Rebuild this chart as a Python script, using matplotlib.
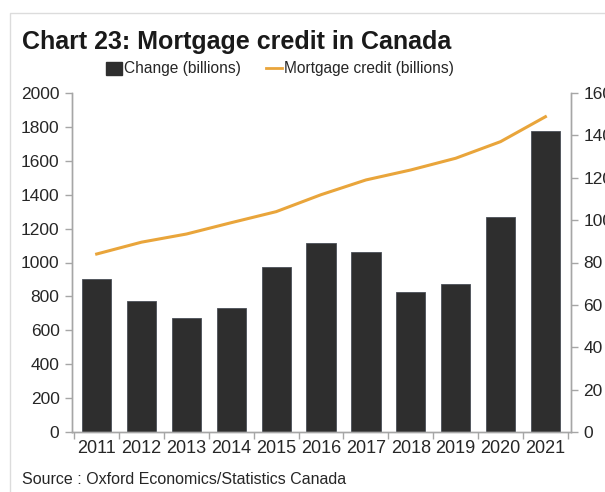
import matplotlib
matplotlib.use("Agg")
import matplotlib.pyplot as plt
from matplotlib.patches import Rectangle
from matplotlib.lines import Line2D

plt.rcParams['font.family'] = ['Liberation Sans', 'DejaVu Sans']

years = ["2011", "2012", "2013", "2014", "2015", "2016",
         "2017", "2018", "2019", "2020", "2021"]
change_billions = [72, 62, 54, 58.5, 78, 89, 85, 66, 70, 101.5, 142]
mortgage_credit = [1050, 1120, 1168, 1235, 1300, 1400, 1487, 1546, 1615, 1713, 1860]
left_ticks = [0, 200, 400, 600, 800, 1000, 1200, 1400, 1600, 1800, 2000]
right_ticks = [0, 20, 40, 60, 80, 100, 120, 140, 160]

bar_color = "#2e2e2e"
line_color = "#E9A53B"
spine_color = "#a6a6a6"
text_color = "#262626"

fig = plt.figure(figsize=(6.05, 4.92), dpi=100)

# faint frame around the chart panel
fig.patches.append(Rectangle((10 / 605, -0.1), 1.2, 1 - 13 / 492 + 0.1,
                             transform=fig.transFigure, fill=False,
                             edgecolor="#dcdcdc", linewidth=1.0))

ax = fig.add_axes([72 / 605, 1 - 432 / 492, (571 - 72) / 605, (432 - 93) / 492])
ax2 = ax.twinx()

x = list(range(len(years)))
ax2.bar(x, change_billions, width=0.65, color=bar_color,
        edgecolor="#4a4f57", linewidth=0.6, zorder=2)
ax.plot(x, mortgage_credit, color=line_color, linewidth=2.2, zorder=3)

# line drawn on top of bars
ax.set_zorder(ax2.get_zorder() + 1)
ax.patch.set_visible(False)

ax.set_xlim(-0.55, 10.57)
ax.set_ylim(0, 2000)
ax2.set_ylim(0, 160)
ax.set_yticks(left_ticks)
ax2.set_yticks(right_ticks)

ax.set_xticks(x)
ax.set_xticklabels(years)
ax.set_xticks([i + 0.5 for i in range(-1, len(years))], minor=True)
ax.tick_params(axis="x", which="major", length=0, pad=6,
               labelsize=13, labelcolor=text_color)
ax.tick_params(axis="x", which="minor", length=5, color=spine_color, width=1)

ax.tick_params(axis="y", length=5, color=spine_color, width=1,
               labelsize=12.5, labelcolor=text_color, pad=4)
ax2.tick_params(axis="y", length=5, color=spine_color, width=1,
                labelsize=12.5, labelcolor=text_color, pad=4)

for a in (ax, ax2):
    a.spines["top"].set_visible(False)
    for s in ("left", "right", "bottom"):
        a.spines[s].set_color(spine_color)
        a.spines[s].set_linewidth(1)

fig.text(22 / 605, 1 - 42 / 492, "Chart 23: Mortgage credit in Canada",
         fontsize=18, fontweight="bold", color="#1a1a1a", va="center", ha="left")

handles = [Rectangle((0, 0), 1, 1, color=bar_color),
           Line2D([0], [0], color=line_color, linewidth=2)]
fig.legend(handles, ["Change (billions)", "Mortgage credit (billions)"],
           loc="center", bbox_to_anchor=(280 / 605, 1 - 69 / 492),
           ncol=2, frameon=False, fontsize=11.2, handlelength=1.0,
           handleheight=0.9, handletextpad=0.15, columnspacing=1.6,
           labelcolor=text_color)

fig.text(22 / 605, 1 - 480 / 492, "Source : Oxford Economics/Statistics Canada",
         fontsize=11.5, color=text_color, va="center", ha="left")

fig.savefig("out.png", dpi=100)
